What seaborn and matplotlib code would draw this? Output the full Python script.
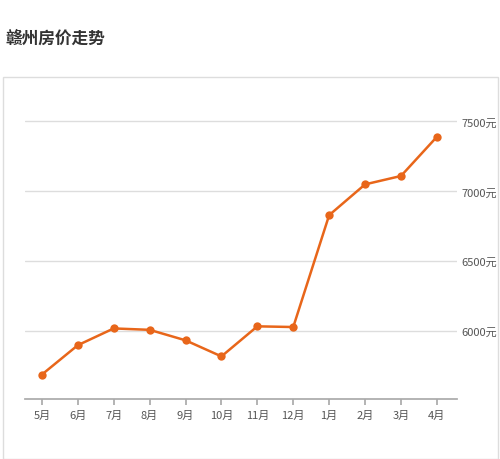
import matplotlib
matplotlib.use("Agg")
import matplotlib.pyplot as plt
import seaborn as sns
import pandas as pd
from matplotlib.patches import Rectangle

months = ["5月","6月","7月","8月","9月","10月","11月","12月","1月","2月","3月","4月"]
prices = [5690, 5900, 6020, 6010, 5935, 5820, 6035, 6030, 6830, 7050, 7110, 7390]
yticks = [6000, 6500, 7000, 7500]

sns.set_theme(style="white")
plt.rcParams['font.family'] = ['Noto Sans CJK SC', 'DejaVu Sans']

fig = plt.figure(figsize=(5, 4.6), dpi=100)
fig.patches.append(Rectangle((0.006, 0.0), 0.99, 0.83, transform=fig.transFigure,
                             fill=False, edgecolor="#dddddd", lw=1))
fig.text(0.01, 0.905, "赣州房价走势", fontsize=12, fontweight="bold", color="#333333")

ax = fig.add_axes([0.05, 0.13, 0.864, 0.63])
df = pd.DataFrame({"m": range(len(months)), "p": prices})
sns.lineplot(data=df, x="m", y="p", ax=ax, color="#e8661a", lw=1.8,
             marker="o", markersize=6, markeredgewidth=0)
ax.set_xlim(-0.47, 11.56)
ax.set_ylim(5514, 7586)
ax.set_xticks(range(len(months)))
ax.set_xticklabels(months, fontsize=8, color="#555555")
ax.set_yticks(yticks)
ax.set_yticklabels([f"{v}元" for v in yticks], fontsize=8, color="#555555")
ax.yaxis.tick_right()
ax.tick_params(axis="x", length=4, color="#aaaaaa", bottom=True)
ax.tick_params(axis="y", length=0)
ax.grid(axis="y", color="#dddddd", lw=1)
ax.set_xlabel(""); ax.set_ylabel("")
for s in ["top", "left", "right"]:
    ax.spines[s].set_visible(False)
ax.spines["bottom"].set_color("#aaaaaa")
fig.savefig("out.png", dpi=100)
